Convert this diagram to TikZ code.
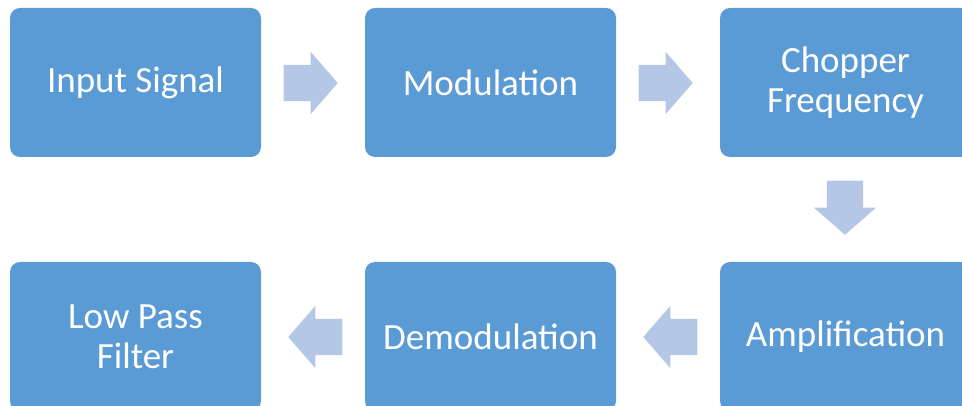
\documentclass[tikz,border=0pt]{standalone}
\usepackage{fontspec}
\setmainfont{Carlito}
\usetikzlibrary{shapes.arrows}
\definecolor{boxblue}{HTML}{5B9BD5}
\definecolor{arrowblue}{HTML}{B4C7E7}

\begin{document}
\begin{tikzpicture}[x=1pt,y=1pt]
		\tikzstyle{stage}=[fill=boxblue,rounded corners=10pt,minimum width=251pt,minimum height=149pt,inner sep=0pt,text=white,align=center,font=\fontsize{37}{40}\selectfont]
		\tikzstyle{flow}=[single arrow,fill=arrowblue,inner sep=0pt,minimum height=54pt,minimum width=62pt,single arrow head extend=13pt,single arrow tip angle=98,anchor=tip]
		\tikzstyle{flowh}=[flow,inner ysep=18pt]
		\tikzstyle{flowv}=[flow,inner xsep=18pt,shape border rotate=270]

		\useasboundingbox (0,0) rectangle (962,406);
		\clip (0,0) rectangle (962,406);

		\node[stage](input) at (135.5,323.5){Input Signal};
		\node[stage](mod) at (490.5,323.5){Modulation};
		\node[stage](chop) at (845.5,323.5){Chopper\\Frequency};
%
		\node[stage](amp) at (845.5,69.5){Amplification};
		\node[stage](demod) at (490.5,69.5){Demodulation};
		\node[stage](lpf) at (135.5,69.5){Low Pass\\Filter};

		\node[flowh](a1) at (338,323){};
		\node[flowh](a2) at (693,323){};
		\node[flowv](a3) at (845,171){};
		\node[flowh,shape border rotate=180](a4) at (643,69){};
		\node[flowh,shape border rotate=180](a5) at (288,69){};
	\end{tikzpicture}
\end{document}
